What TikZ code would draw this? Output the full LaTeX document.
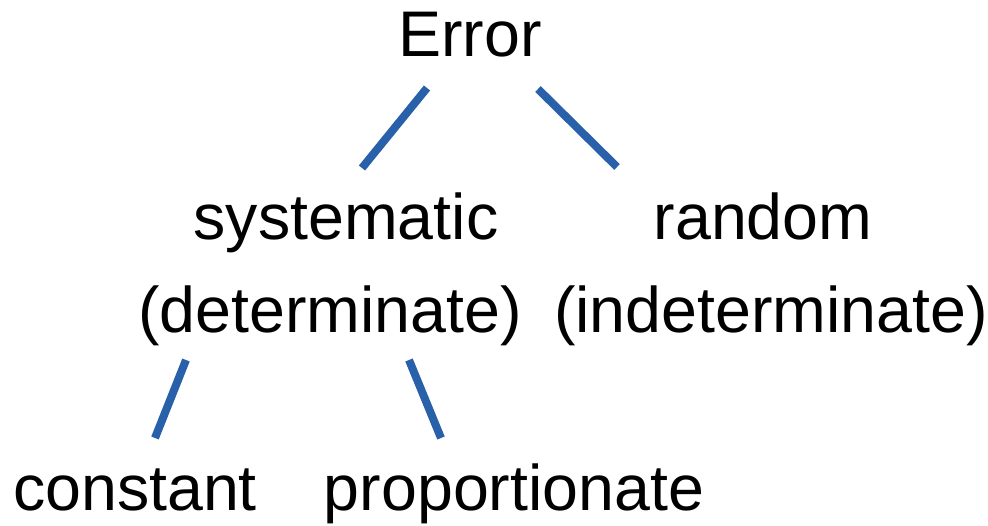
\documentclass[tikz,border=0pt]{standalone}
\usepackage{fontspec}
\setmainfont{Liberation Sans}
\usepackage{tikz}
\definecolor{branchblue}{RGB}{41,96,170}

\begin{document}
\begin{tikzpicture}[x=1pt,y=1pt,
    word/.style={anchor=base,inner sep=0pt,font=\fontsize{64.5}{76}\selectfont},
    branch/.style={draw=branchblue,line width=8pt}]
      \useasboundingbox (0,0) rectangle (988,-526);
      \path (470,-57) node[word] (err) {Error};
      \path (346,-240) node[word] (sys) {systematic};
      \path (330,-333) node[word] (sysdet) {(determinate)};
      \path (763,-240) node[word] (rnd) {random};
      \path (771,-333) node[word] (rnddet) {(indeterminate)};
      \path (135,-510) node[word] (con) {constant};
      \path (514,-510) node[word] (pro) {proportionate};
      \draw[branch] ([shift={(-43,-31)}]err.base) -- ([shift={(16,72)}]sys.base);
      \draw[branch] ([shift={(68,-32)}]err.base) -- ([shift={(-146,73)}]rnd.base);
      \draw[branch] ([shift={(-144,-27)}]sysdet.base) -- ([shift={(20,72)}]con.base);
      \draw[branch] ([shift={(79,-27)}]sysdet.base) -- ([shift={(-73,72)}]pro.base);
    \end{tikzpicture}
\end{document}
